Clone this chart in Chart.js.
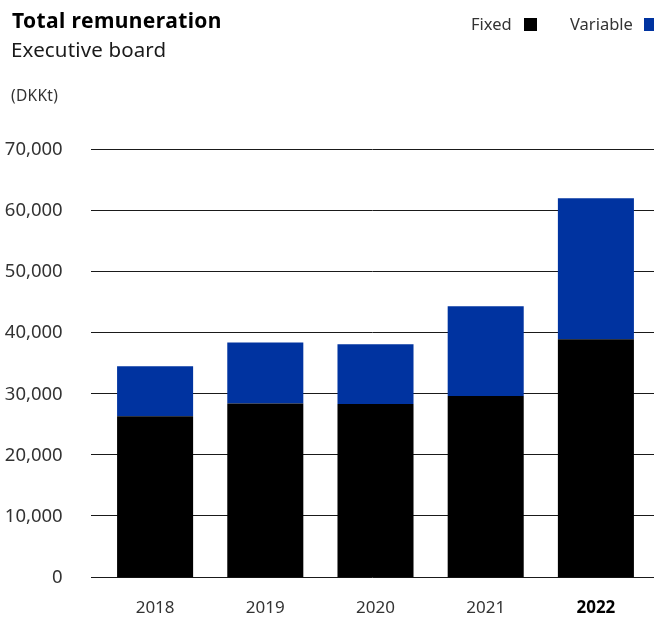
<!DOCTYPE html>
<html>
<head>
<meta charset="utf-8">
<title>Total remuneration</title>
<script src="https://cdn.jsdelivr.net/npm/chart.js@4.4.1/dist/chart.umd.min.js"></script>
<style>
    body { margin: 0; background: #fff; font-family: "Noto Sans", sans-serif; }
    #wrap { position: relative; width: 654px; height: 619px; overflow: hidden; }
    #remChart { position: absolute; left: 0; top: 0; }
    .txt { position: absolute; white-space: nowrap; line-height: 1; color: #1a1a1a; }
    #title { left: 12px; top: 9.7px; font-size: 21px; font-weight: 700; letter-spacing: 0.4px; color: #000; }
    #subtitle { left: 11px; top: 39px; font-size: 20.5px; letter-spacing: 0.15px; }
    #unit { left: 11px; top: 88px; font-size: 15.5px; letter-spacing: 0.3px; color: #333; }
    .legend { top: 16px; font-size: 16.5px; color: #333; }
    .swatch { position: absolute; top: 18px; width: 13px; height: 13px; }
</style>
</head>
<body>
<div id="wrap">
    <canvas id="remChart" width="654" height="619"></canvas>
    <div class="txt" id="title">Total remuneration</div>
    <div class="txt" id="subtitle">Executive board</div>
    <div class="txt" id="unit">(DKKt)</div>
    <div class="txt legend" style="left:471px">Fixed</div>
    <div class="swatch" style="left:524px; background:#000"></div>
    <div class="txt legend" style="left:570px">Variable</div>
    <div class="swatch" style="left:644px; background:#0033a0"></div>
</div>

<script>
// -----------------------------------------
// Daten (DKKt)
// -----------------------------------------
const years = ["2018", "2019", "2020", "2021", "2022"];
const fixedPay = [26400, 28500, 28400, 29700, 39000];
const variablePay = [8200, 10000, 9800, 14700, 23100];
const yTicks = [0, 10000, 20000, 30000, 40000, 50000, 60000, 70000];

const FONT = "'Noto Sans', sans-serif";


// -----------------------------------------
// Gitterlinien hinter den Balken, etwas breiter als der Plotbereich
// -----------------------------------------
const gridPlugin = {
    id: "wideGrid",
    beforeDatasetsDraw(chart) {
        const ctx = chart.ctx;
        const y = chart.scales.y;
        ctx.save();
        ctx.strokeStyle = "#1a1a1a";
        ctx.lineWidth = 1;
        yTicks.forEach(v => {
            const py = Math.round(y.getPixelForValue(v)) - 0.5;
            ctx.beginPath();
            ctx.moveTo(91, py);
            ctx.lineTo(chart.width, py);
            ctx.stroke();
        });
        ctx.restore();
    }
};


// -----------------------------------------
// Diagramm
// -----------------------------------------
const chart = new Chart(document.getElementById("remChart"), {
    type: "bar",
    data: {
        labels: years,
        datasets: [
            {
                label: "Fixed",
                data: fixedPay,
                backgroundColor: "#000000",
                borderWidth: 0,
                barPercentage: 0.69,
                categoryPercentage: 1
            },
            {
                label: "Variable",
                data: variablePay,
                backgroundColor: "#0033a0",
                borderWidth: 0,
                barPercentage: 0.69,
                categoryPercentage: 1
            }
        ]
    },
    options: {
        responsive: false,
        animation: false,
        layout: { padding: { top: 150, right: 3, left: 0, bottom: 0 } },
        plugins: {
            legend: { display: false },
            tooltip: { enabled: false }
        },
        scales: {
            x: {
                stacked: true,
                grid: { display: false },
                border: { display: false },
                afterFit(scale) { scale.height = 41.5; },
                ticks: {
                    padding: 12,
                    color: c => c.index === 4 ? "#000" : "#333",
                    font: c => ({ family: FONT, size: 17, weight: c.index === 4 ? "700" : "400" })
                }
            },
            y: {
                stacked: true,
                min: 0,
                max: 70000,
                grid: { display: false },
                border: { display: false },
                afterFit(scale) { scale.width = 100; },
                afterBuildTicks(scale) { scale.ticks = yTicks.map(v => ({ value: v })); },
                ticks: {
                    padding: 29.3,
                    color: "#333",
                    font: { family: FONT, size: 18.5 },
                    callback: v => v.toLocaleString("en-US")
                }
            }
        }
    },
    plugins: [gridPlugin]
});
</script>
</body>
</html>
